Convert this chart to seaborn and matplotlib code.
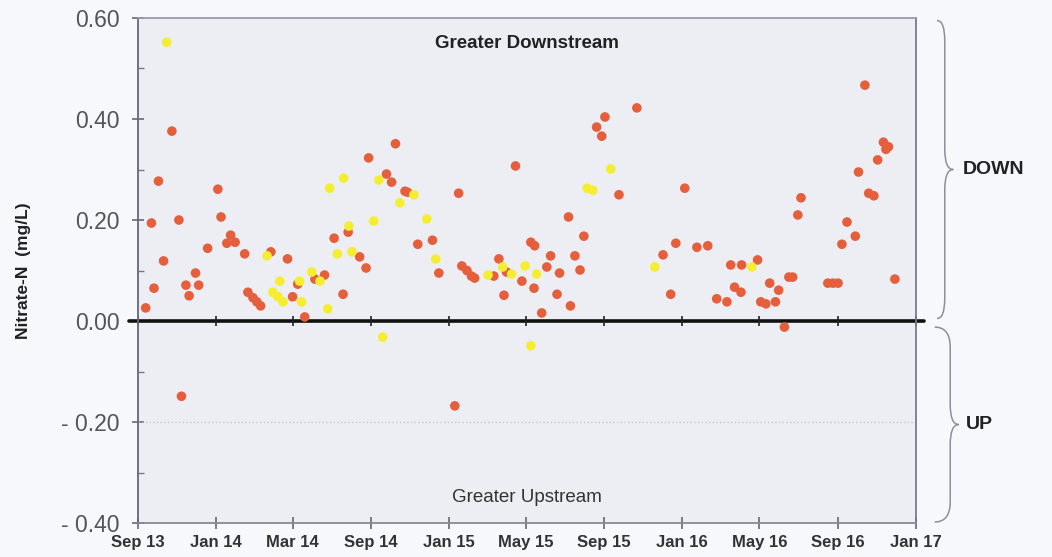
import pandas as pd
import matplotlib.pyplot as plt
import matplotlib.dates as mdates
from matplotlib.path import Path
from matplotlib.patches import PathPatch
from matplotlib.transforms import blended_transform_factory
import seaborn as sns

# downstream minus upstream nitrate-N, two site pairs (red / yellow)
red_dates = [
    '2013-09-13', '2013-09-22', '2013-09-26', '2013-10-03', '2013-10-11', '2013-10-24',
    '2013-11-04', '2013-11-08', '2013-11-15', '2013-11-20', '2013-11-30', '2013-12-05',
    '2013-12-19', '2014-01-04', '2014-01-09', '2014-01-18', '2014-01-24', '2014-01-31',
    '2014-02-15', '2014-02-20', '2014-02-28', '2014-03-06', '2014-03-12', '2014-03-28',
    '2014-04-23', '2014-05-01', '2014-05-09', '2014-05-20', '2014-06-05', '2014-06-20',
    '2014-07-05', '2014-07-19', '2014-07-27', '2014-08-14', '2014-08-24', '2014-08-28',
    '2014-09-25', '2014-10-03', '2014-10-09', '2014-10-24', '2014-10-28', '2014-11-13',
    '2014-12-06', '2014-12-16', '2015-01-10', '2015-01-16', '2015-01-21', '2015-01-29',
    '2015-02-05', '2015-02-10', '2015-03-12', '2015-03-20', '2015-03-28', '2015-04-01',
    '2015-04-15', '2015-04-25', '2015-05-09', '2015-05-14', '2015-05-15', '2015-05-26',
    '2015-06-03', '2015-06-09', '2015-06-19', '2015-06-23', '2015-07-07', '2015-07-10',
    '2015-07-17', '2015-07-25', '2015-07-31', '2015-08-20', '2015-08-28', '2015-09-02',
    '2015-09-24', '2015-10-22', '2015-12-02', '2015-12-14', '2015-12-22', '2016-01-05',
    '2016-01-24', '2016-02-10', '2016-02-24', '2016-03-11', '2016-03-17', '2016-03-23',
    '2016-04-02', '2016-04-03', '2016-04-28', '2016-05-03', '2016-05-11', '2016-05-17',
    '2016-05-26', '2016-05-31', '2016-06-09', '2016-06-16', '2016-06-22', '2016-06-30',
    '2016-07-05', '2016-08-16', '2016-08-24', '2016-09-01', '2016-09-07', '2016-09-15',
    '2016-09-28', '2016-10-03', '2016-10-13', '2016-10-19', '2016-10-27', '2016-11-02',
    '2016-11-11', '2016-11-15', '2016-11-19', '2016-11-29',
]
red_vals = [
    0.026, 0.194, 0.065, 0.277, 0.119, 0.376,
    0.200, -0.149, 0.071, 0.050, 0.095, 0.071,
    0.144, 0.261, 0.206, 0.154, 0.170, 0.156,
    0.133, 0.057, 0.046, 0.038, 0.030, 0.137,
    0.123, 0.048, 0.073, 0.008, 0.083, 0.091,
    0.164, 0.053, 0.176, 0.127, 0.105, 0.323,
    0.291, 0.275, 0.351, 0.257, 0.255, 0.152,
    0.160, 0.095, -0.168, 0.253, 0.109, 0.100,
    0.089, 0.085, 0.089, 0.123, 0.051, 0.097,
    0.307, 0.079, 0.156, 0.065, 0.149, 0.016,
    0.107, 0.129, 0.053, 0.095, 0.206, 0.030,
    0.129, 0.101, 0.168, 0.384, 0.366, 0.404,
    0.250, 0.422, 0.131, 0.053, 0.154, 0.263,
    0.146, 0.149, 0.044, 0.038, 0.111, 0.067,
    0.057, 0.111, 0.121, 0.038, 0.034, 0.075,
    0.038, 0.061, -0.012, 0.087, 0.087, 0.210,
    0.244, 0.075, 0.075, 0.075, 0.152, 0.196,
    0.168, 0.295, 0.467, 0.253, 0.248, 0.319,
    0.354, 0.340, 0.345, 0.083,
]
yellow_dates = [
    '2013-10-16', '2014-03-22', '2014-03-31', '2014-04-08', '2014-04-11', '2014-04-16',
    '2014-05-12', '2014-05-15', '2014-05-31', '2014-06-13', '2014-06-25', '2014-06-28',
    '2014-07-10', '2014-07-20', '2014-07-28', '2014-08-02', '2014-09-05', '2014-09-13',
    '2014-09-19', '2014-10-16', '2014-11-07', '2014-11-27', '2014-12-11', '2015-03-03',
    '2015-03-26', '2015-04-09', '2015-04-30', '2015-05-09', '2015-05-18', '2015-08-05',
    '2015-08-14', '2015-09-11', '2015-11-19', '2016-04-19',
]
yellow_vals = [
    0.552, 0.129, 0.057, 0.048, 0.079, 0.038,
    0.079, 0.038, 0.097, 0.079, 0.024, 0.263,
    0.133, 0.283, 0.188, 0.137, 0.198, 0.279,
    -0.032, 0.234, 0.250, 0.202, 0.123, 0.091,
    0.107, 0.093, 0.109, -0.049, 0.093, 0.263,
    0.259, 0.301, 0.107, 0.107,
]

tick_dates = ['2013-09-01', '2014-01-01', '2014-05-01', '2014-09-01', '2015-01-01', '2015-05-01',
              '2015-09-01', '2016-01-01', '2016-05-01', '2016-09-01', '2017-01-01']
tick_labels = ['Sep 13', 'Jan 14', 'Mar 14', 'Sep 14', 'Jan 15', 'May 15',
               'Sep 15', 'Jan 16', 'May 16', 'Sep 16', 'Jan 17']
y_ticks = [0.6, 0.4, 0.2, 0.0, -0.2, -0.4]
y_labels = ['0.60', '0.40', '0.20', '0.00', '- 0.20', '- 0.40']

df = pd.concat([
    pd.DataFrame({'date': pd.to_datetime(red_dates), 'diff': red_vals, 'site': 'red'}),
    pd.DataFrame({'date': pd.to_datetime(yellow_dates), 'diff': yellow_vals, 'site': 'yellow'}),
], ignore_index=True)

sns.set_theme(style='white')
plt.rcParams['font.family'] = ['Liberation Sans', 'DejaVu Sans']

fig = plt.figure(figsize=(10.52, 5.57), dpi=100, facecolor='#F6F8FC')
ax = fig.add_axes([0.1312, 0.061, 0.7395, 0.9067])
ax.set_facecolor('#ECEEF4')

sns.scatterplot(data=df, x='date', y='diff', hue='site',
                palette={'red': '#E65F3D', 'yellow': '#F5EE30'},
                s=48, linewidth=0, legend=False, zorder=3, ax=ax)

tdates = pd.to_datetime(tick_dates)
ax.set_xlim(tdates[0], tdates[-1])
ax.set_ylim(-0.4, 0.6)
ax.set_xticks(tdates)
ax.set_xticklabels(tick_labels, fontsize=12, fontweight='bold', color='#333333')
ax.set_yticks(y_ticks)
ax.set_yticklabels(y_labels, fontsize=16.5, color='#555555')
ax.set_yticks([0.5, 0.3, 0.1, -0.1, -0.3], minor=True)
ax.tick_params(axis='x', which='major', direction='inout', length=9, width=1.2,
               color='#666677', bottom=True, pad=4)
ax.tick_params(axis='y', which='major', direction='inout', length=9, width=1.2,
               color='#666677', left=True, pad=9)
ax.tick_params(axis='y', which='minor', direction='in', length=4, width=1, color='#777788', left=True)

ax.set_xlabel('')
ax.set_ylabel('Nitrate-N  (mg/L)', fontsize=12.5, fontweight='bold', color='#222222')
ax.yaxis.set_label_coords(-0.138, 0.5)

for side, col in [('left', '#666677'), ('bottom', '#888899'), ('top', '#9A9AAE'), ('right', '#7A7A8E')]:
    ax.spines[side].set_color(col)
    ax.spines[side].set_linewidth(1.3)

# zero line and faint dotted guide
ax.axhline(0, xmin=-0.012, xmax=1.01, color='#111111', lw=2.6, zorder=2, clip_on=False)
ax.axhline(-0.2, color='#C4C6D2', lw=1, ls=':', zorder=1)
ax.plot(tdates, [0.0] * len(tdates), ls='none', marker='|', ms=7, mew=1.2, color='#222222', zorder=2)

ax.text(0.5, 0.95, 'Greater Downstream', transform=ax.transAxes, ha='center', va='center',
        fontsize=13.5, fontweight='bold', color='#222222')
ax.text(0.5, 0.05, 'Greater Upstream', transform=ax.transAxes, ha='center', va='center',
        fontsize=13.5, color='#333333')

# braces on the right
tr = blended_transform_factory(ax.transAxes, ax.transData)


def brace(y_top, y_bot, x0, xv, xt, r=0.04):
    ym = (y_top + y_bot) / 2
    verts = [(x0, y_top), (xv, y_top), (xv, y_top - r),
             (xv, ym + r), (xv, ym), (xt, ym), (xv, ym), (xv, ym - r),
             (xv, y_bot + r), (xv, y_bot), (x0, y_bot)]
    codes = [Path.MOVETO, Path.CURVE3, Path.CURVE3,
             Path.LINETO, Path.CURVE3, Path.CURVE3, Path.CURVE3, Path.CURVE3,
             Path.LINETO, Path.CURVE3, Path.CURVE3]
    ax.add_patch(PathPatch(Path(verts, codes), transform=tr, fill=False,
                           edgecolor='#8E8E9E', lw=1.1, clip_on=False))
    return ym


ym1 = brace(0.595, 0.005, 1.027, 1.037, 1.048)
ym2 = brace(-0.012, -0.398, 1.024, 1.044, 1.055)
ax.text(1.060, ym1, 'DOWN', transform=tr, ha='left', va='center',
        fontsize=14, fontweight='bold', color='#222222')
ax.text(1.064, ym2, 'UP', transform=tr, ha='left', va='center',
        fontsize=14, fontweight='bold', color='#222222')

fig.savefig('out.png', dpi=100, facecolor=fig.get_facecolor())
